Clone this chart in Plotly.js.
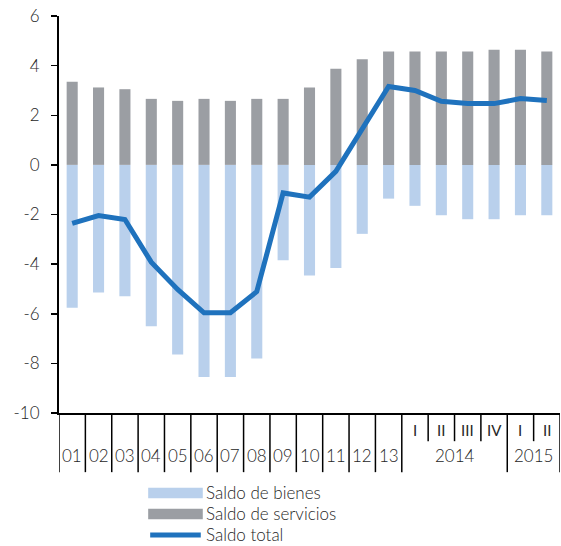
<!DOCTYPE html>
<html>
<head>
<meta charset="utf-8">
<script src="https://cdn.plot.ly/plotly-3.0.1.min.js"></script>
<style>
html,body{margin:0;padding:0;background:#fff;}
#chart{width:561px;height:546px;}
</style>
</head>
<body>
<div id="chart"></div>
<script>
// ---- data ----
var categories = ["01","02","03","04","05","06","07","08","09","10","11","12","13",
                  "2014 I","2014 II","2014 III","2014 IV","2015 I","2015 II"];
var innerLabels = ["","","","","","","","","","","","","","I","II","III","IV","I","II"];
var yearLabels = ["01","02","03","04","05","06","07","08","09","10","11","12","13"];
var groupLabels = ["2014","2015"];
var yTickVals = [-10,-8,-6,-4,-2,0,2,4,6];
var yTickText = ["-10","-8","-6","-4","-2","0","2","4","6"];
var saldoBienes = [-5.76,-5.14,-5.29,-6.50,-7.64,-8.55,-8.55,-7.80,-3.84,-4.46,-4.16,-2.78,
                   -1.36,-1.65,-2.03,-2.19,-2.19,-2.03,-2.03];
var saldoServicios = [3.35,3.12,3.05,2.66,2.58,2.66,2.58,2.66,2.66,3.12,3.87,4.26,
                      4.57,4.57,4.57,4.57,4.64,4.64,4.57];
var saldoTotal = [-2.36,-2.04,-2.20,-3.92,-5.02,-5.96,-5.96,-5.11,-1.13,-1.30,-0.26,1.45,
                  3.16,3.00,2.56,2.47,2.47,2.67,2.59];
var seriesNames = ["Saldo de bienes","Saldo de servicios","Saldo total"];

// ---- styles ----
var cBienes = "#b9d0ec", cServ = "#9b9ea3", cTotal = "#1f72bd";
var FONT = "Lato, 'Noto Sans', sans-serif";
var txt = "#262626";
var W = 300;

var traces = [
  {type:"bar", x:categories, y:saldoBienes, name:seriesNames[0], marker:{color:cBienes}, showlegend:false},
  {type:"bar", x:categories, y:saldoServicios, name:seriesNames[1], marker:{color:cServ}, showlegend:false},
  {type:"scatter", mode:"lines", x:categories, y:saldoTotal, name:seriesNames[2],
   line:{color:cTotal, width:5}, showlegend:false}
];

var shapes = [], annotations = [];
var n = categories.length;
var fullBottom = -0.149, shortBottom = -0.071;
// dividers
for (var b = 0; b <= n; b++) {
  var pos = b - 0.5;
  var isFull = (b <= 13) || b === 17 || b === n;
  shapes.push({type:"line", xref:"x", yref:"paper", x0:pos, x1:pos, y0:0, y1:isFull?fullBottom:shortBottom,
               line:{color:"#000", width:1.5}});
}
function lbl(x, y, t, size, xref, anchor, weight) {
  annotations.push({xref:xref||"x", yref:"paper", x:x, y:y, text:t, showarrow:false,
    xanchor:anchor||"center", yanchor:"middle",
    font:{family:FONT,size:size,color:txt,weight:weight||W}});
}
yearLabels.forEach(function(t,i){ lbl(i, -0.106, t, 17); });
innerLabels.forEach(function(t,i){ if (t) lbl(i, -0.043, t, 15, "x", "center", 400); });
lbl(14.5, -0.106, groupLabels[0], 17);
lbl(17.5, -0.106, groupLabels[1], 17);

// custom legend
var lx0 = 0.178, lx1 = 0.287;
var rows = [-0.2015, -0.2544, -0.3073];
shapes.push({type:"rect", xref:"paper", yref:"paper", x0:lx0, x1:lx1, y0:rows[0]-0.0135, y1:rows[0]+0.0135,
  fillcolor:cBienes, line:{width:0}});
shapes.push({type:"rect", xref:"paper", yref:"paper", x0:lx0, x1:lx1, y0:rows[1]-0.0135, y1:rows[1]+0.0135,
  fillcolor:cServ, line:{width:0}});
shapes.push({type:"line", xref:"paper", yref:"paper", x0:lx0+0.004, x1:lx1-0.004, y0:rows[2], y1:rows[2],
  line:{color:cTotal, width:5}});
seriesNames.forEach(function(t,i){ lbl(lx1+0.002, rows[i], t, 17, "paper", "left"); });

var layout = {
  width:561, height:546,
  margin:{l:59, r:1, t:16, b:133, pad:0},
  paper_bgcolor:"#fff", plot_bgcolor:"#fff",
  barmode:"relative", bargap:0.58,
  showlegend:false,
  font:{family:FONT, color:txt},
  xaxis:{type:"category", range:[-0.5, n-0.5], showticklabels:false, ticks:"", showgrid:false,
         zeroline:false, showline:true, linecolor:"#000", linewidth:2, fixedrange:true},
  yaxis:{range:[-10,6], tickmode:"array", tickvals:yTickVals, ticktext:yTickText,
         ticks:"outside", ticklen:6, tickwidth:1.5, tickcolor:"#000",
         showgrid:false, zeroline:false, showline:true, linecolor:"#000", linewidth:2,
         ticklabelstandoff:8, tickfont:{family:FONT, size:17, color:txt, weight:W}, fixedrange:true},
  shapes:shapes,
  annotations:annotations
};

Plotly.newPlot("chart", traces, layout, {displayModeBar:false, staticPlot:true});
</script>
</body>
</html>
